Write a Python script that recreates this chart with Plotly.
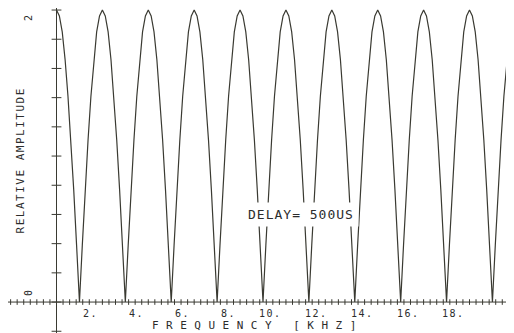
import plotly.graph_objects as go
import numpy as np

# Comb-filter response, delay 500 us
freq_khz = [
    0.000, 0.125, 0.250, 0.375, 0.500, 0.625, 0.750, 0.875,
    1.000, 1.125, 1.250, 1.375, 1.500, 1.625, 1.750, 1.875,
    2.000, 2.125, 2.250, 2.375, 2.500, 2.625, 2.750, 2.875,
    3.000, 3.125, 3.250, 3.375, 3.500, 3.625, 3.750, 3.875,
    4.000, 4.125, 4.250, 4.375, 4.500, 4.625, 4.750, 4.875,
    5.000, 5.125, 5.250, 5.375, 5.500, 5.625, 5.750, 5.875,
    6.000, 6.125, 6.250, 6.375, 6.500, 6.625, 6.750, 6.875,
    7.000, 7.125, 7.250, 7.375, 7.500, 7.625, 7.750, 7.875,
    8.000, 8.125, 8.250, 8.375, 8.500, 8.625, 8.750, 8.875,
    9.000, 9.125, 9.250, 9.375, 9.500, 9.625, 9.750, 9.875,
    10.000, 10.125, 10.250, 10.375, 10.500, 10.625, 10.750, 10.875,
    11.000, 11.125, 11.250, 11.375, 11.500, 11.625, 11.750, 11.875,
    12.000, 12.125, 12.250, 12.375, 12.500, 12.625, 12.750, 12.875,
    13.000, 13.125, 13.250, 13.375, 13.500, 13.625, 13.750, 13.875,
    14.000, 14.125, 14.250, 14.375, 14.500, 14.625, 14.750, 14.875,
    15.000, 15.125, 15.250, 15.375, 15.500, 15.625, 15.750, 15.875,
    16.000, 16.125, 16.250, 16.375, 16.500, 16.625, 16.750, 16.875,
    17.000, 17.125, 17.250, 17.375, 17.500, 17.625, 17.750, 17.875,
    18.000, 18.125, 18.250, 18.375, 18.500, 18.625, 18.750, 18.875,
    19.000, 19.125, 19.250, 19.375, 19.500, 19.625, 19.750, 19.875,
    20.000,
]
amplitude = [
    2.00, 1.96, 1.85, 1.66, 1.41, 1.11, 0.77, 0.39,
    0.00, 0.39, 0.77, 1.11, 1.41, 1.66, 1.85, 1.96,
    2.00, 1.96, 1.85, 1.66, 1.41, 1.11, 0.77, 0.39,
    0.00, 0.39, 0.77, 1.11, 1.41, 1.66, 1.85, 1.96,
    2.00, 1.96, 1.85, 1.66, 1.41, 1.11, 0.77, 0.39,
    0.00, 0.39, 0.77, 1.11, 1.41, 1.66, 1.85, 1.96,
    2.00, 1.96, 1.85, 1.66, 1.41, 1.11, 0.77, 0.39,
    0.00, 0.39, 0.77, 1.11, 1.41, 1.66, 1.85, 1.96,
    2.00, 1.96, 1.85, 1.66, 1.41, 1.11, 0.77, 0.39,
    0.00, 0.39, 0.77, 1.11, 1.41, 1.66, 1.85, 1.96,
    2.00, 1.96, 1.85, 1.66, 1.41, 1.11, 0.77, 0.39,
    0.00, 0.39, 0.77, 1.11, 1.41, 1.66, 1.85, 1.96,
    2.00, 1.96, 1.85, 1.66, 1.41, 1.11, 0.77, 0.39,
    0.00, 0.39, 0.77, 1.11, 1.41, 1.66, 1.85, 1.96,
    2.00, 1.96, 1.85, 1.66, 1.41, 1.11, 0.77, 0.39,
    0.00, 0.39, 0.77, 1.11, 1.41, 1.66, 1.85, 1.96,
    2.00, 1.96, 1.85, 1.66, 1.41, 1.11, 0.77, 0.39,
    0.00, 0.39, 0.77, 1.11, 1.41, 1.66, 1.85, 1.96,
    2.00, 1.96, 1.85, 1.66, 1.41, 1.11, 0.77, 0.39,
    0.00, 0.39, 0.77, 1.11, 1.41, 1.66, 1.85, 1.96,
    2.00,
]

x_tick_vals = [2, 4, 6, 8, 10, 12, 14, 16, 18]
x_tick_text = ['2.', '4.', '6.', '8.', '10.', '12.', '14.', '16.', '18.']
y_tick_vals = [0, 2]
y_tick_text = ['0', '2']

x_title = 'FREQUENCY [KHZ]'
y_title = 'RELATIVE AMPLITUDE'
delay_label = 'DELAY= 500US'

ink = '#3a3a32'
text_ink = '#2c2c2c'
mono = 'DejaVu Sans Mono'

# page body adds an 8px offset, so the figure is 8px smaller than the window
x_range = [-2.114, 19.94]
y_range = [-0.212, 2.014]

# plotter style cross ticks on both axes
x_minor = np.arange(-7, 70) * 2 / 7
y_minor = np.arange(-1, 11) * 0.2


def spaced(text, px):
    return f'<span style="letter-spacing:{px}px">{text}</span>'


fig = go.Figure()

fig.add_trace(go.Scatter(
    x=freq_khz, y=amplitude, mode='lines',
    line=dict(color=ink, width=1.2),
    hoverinfo='skip'
))

fig.add_trace(go.Scatter(
    x=x_minor, y=np.zeros(len(x_minor)), mode='markers',
    marker=dict(symbol='line-ns', size=4, line=dict(color=ink, width=1)),
    hoverinfo='skip'
))
fig.add_trace(go.Scatter(
    x=np.zeros(len(y_minor)), y=y_minor, mode='markers',
    marker=dict(symbol='line-ew', size=7, line=dict(color=ink, width=1)),
    hoverinfo='skip'
))

# axis lines crossing at the origin
fig.add_shape(type='line', x0=x_range[0], x1=x_range[1], y0=0, y1=0,
              line=dict(color=ink, width=1), layer='below')
fig.add_shape(type='line', x0=0, x1=0, y0=y_range[0], y1=y_range[1],
              line=dict(color=ink, width=1), layer='below')

annotations = []
for v, t in zip(x_tick_vals, x_tick_text):
    annotations.append(dict(
        x=v, y=-0.075, text=spaced(t, 1.5), showarrow=False,
        xanchor='right', yanchor='middle', xshift=-2,
        font=dict(family=mono, size=10, color=text_ink)
    ))
for v, t in zip(y_tick_vals, y_tick_text):
    annotations.append(dict(
        x=-1.24, y=0.062 if v == 0 else 1.945, text=t, showarrow=False,
        textangle=-90, xanchor='center', yanchor='middle',
        font=dict(family=mono, size=10, color=text_ink)
    ))
annotations.append(dict(
    x=-1.59, y=0.97, text=spaced(y_title, 1.5), showarrow=False,
    textangle=-90, xanchor='center', yanchor='middle',
    font=dict(family=mono, size=11, color=text_ink)
))
annotations.append(dict(
    x=8.78, y=-0.158, text=spaced(x_title, 7.5), showarrow=False,
    xanchor='center', yanchor='middle',
    font=dict(family=mono, size=11, color=text_ink)
))
annotations.append(dict(
    x=10.66, y=0.603, text=spaced(delay_label, 1), showarrow=False,
    xanchor='center', yanchor='middle', bgcolor='white', borderpad=4,
    font=dict(family=mono, size=13, color=text_ink)
))

fig.update_layout(
    width=506, height=325,
    margin=dict(l=0, r=0, t=0, b=0),
    paper_bgcolor='white', plot_bgcolor='white',
    showlegend=False,
    xaxis=dict(range=x_range, visible=False),
    yaxis=dict(range=y_range, visible=False),
    annotations=annotations
)

fig.write_html("out.html")
